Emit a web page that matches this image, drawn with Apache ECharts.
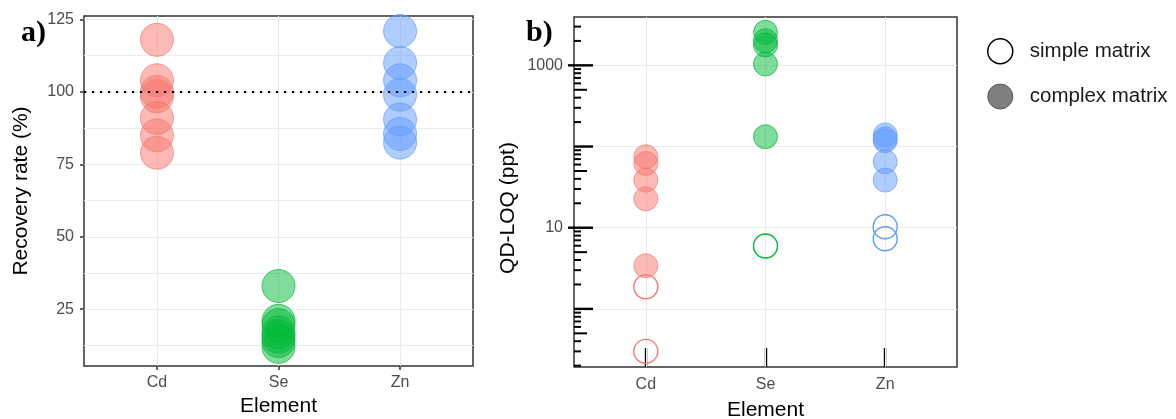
<!DOCTYPE html>
<html>
<head>
<meta charset="utf-8">
<script src="https://cdn.jsdelivr.net/npm/echarts@6/dist/echarts.min.js"></script>
<style>
html, body { margin: 0; padding: 0; background: #fff; }
#main { width: 1176px; height: 419px; }
</style>
</head>
<body>
<div id="main"></div>
<script>
var elements = ['Cd', 'Se', 'Zn'];

// a) recovery rate (%), all complex matrix
var recoveryCd = [118, 104, 100, 98.5, 91, 85, 79];
var recoverySe = [33, 21, 19.5, 17, 15.5, 14, 12];
var recoveryZn = [121, 110, 104, 99, 90.5, 85.5, 82.5];

// b) QD-LOQ (ppt)
var loqComplexCd = [75, 62, 38.6, 22.7, 3.4];
var loqComplexSe = [2550, 2010, 1780, 1040, 132];
var loqComplexZn = [139, 125, 118, 65, 38.6];
var loqSimpleCd = [1.87, 0.30];
var loqSimpleSe = [5.96];
var loqSimpleZn = [10.3, 7.3];

// ticks
var recoveryTicks = [25, 50, 75, 100, 125];
var recoveryMinor = [12.5, 37.5, 62.5, 87.5, 112.5];
var recoveryTarget = 100;
var loqLabels = [10, 1000];
var loqDecades = [1, 10, 100, 1000];
var loqFives = [0.5, 5, 50, 500];
var loqMinor = [0.2, 0.3, 0.4, 0.6, 0.7, 0.8, 0.9,
                2, 3, 4, 6, 7, 8, 9,
                20, 30, 40, 60, 70, 80, 90,
                200, 300, 400, 600, 700, 800, 900,
                2000, 3000];

var fillColors = ['rgba(248,118,109,0.5)', 'rgba(0,186,56,0.5)', 'rgba(97,156,255,0.5)'];
var lineColors = ['rgba(248,118,109,0.7)', 'rgba(0,186,56,0.7)', 'rgba(97,156,255,0.7)'];
var solidColors = ['#F8766D', '#00BA38', '#619CFF'];

var X_MIN = 0.4, X_MAX = 3.6;
var catPos = elements.map(function (e, i) { return i + 1; });
var FONT = '"Liberation Sans", Arial, sans-serif';
var GRID_LINE = { color: '#ebebeb', width: 1, type: 'solid' };

function pts(values, i) {
    return values.map(function (v) { return [i + 1, v]; });
}

function filledSeries(values, i, grid, size) {
    return {
        type: 'scatter', name: 'complex matrix',
        xAxisIndex: grid, yAxisIndex: grid,
        data: pts(values, i), symbol: 'circle', symbolSize: size, z: 3,
        itemStyle: { color: fillColors[i], borderColor: lineColors[i], borderWidth: 1, opacity: 1 },
        emphasis: { disabled: true }
    };
}

function openSeries(values, i) {
    return {
        type: 'scatter', name: 'simple matrix',
        xAxisIndex: 1, yAxisIndex: 1,
        data: pts(values, i), symbol: 'circle', symbolSize: 24, z: 3,
        itemStyle: { color: 'rgba(255,255,255,0)', borderColor: solidColors[i], borderWidth: 1.4, opacity: 1 },
        emphasis: { disabled: true }
    };
}

function gridLines(hValues) {
    return {
        silent: true, symbol: 'none', z: 1, animation: false,
        label: { show: false }, lineStyle: GRID_LINE, emphasis: { disabled: true },
        data: hValues.map(function (v) { return { yAxis: v }; })
            .concat(catPos.map(function (x) { return { xAxis: x }; }))
    };
}

// log ticks on the left side of panel b
function logTickSeries(values, inLen, width) {
    return {
        type: 'custom', xAxisIndex: 1, yAxisIndex: 1, silent: true, z: 6, clip: false,
        data: values.map(function (v) { return [X_MIN, v]; }),
        renderItem: function (params, api) {
            var v = api.value(1);
            var p = api.coord([api.value(0), v]);
            var out = loqLabels.some(function (l) { return Math.abs(v - l) < 1e-9; }) ? 6 : 0;
            return {
                type: 'line',
                shape: { x1: p[0] - out, y1: p[1], x2: p[0] + inLen, y2: p[1] },
                style: { stroke: '#000', lineWidth: width }
            };
        }
    };
}

function xAxisCfg(grid, tickLen, inside, tickWidth, labelMargin, nameGap) {
    return {
        type: 'value', gridIndex: grid, min: X_MIN, max: X_MAX,
        axisLine: { show: false }, splitLine: { show: false },
        axisTick: { show: true, customValues: catPos, inside: inside, length: tickLen,
                    lineStyle: { color: inside ? '#000' : '#333', width: tickWidth } },
        axisLabel: { customValues: catPos, color: '#4d4d4d', fontSize: 16, margin: labelMargin,
                     fontFamily: FONT,
                     formatter: function (v) { return elements[Math.round(v) - 1] || ''; } },
        name: 'Element', nameLocation: 'middle', nameGap: nameGap,
        nameTextStyle: { color: '#000', fontSize: 21, fontFamily: FONT }
    };
}

var recoveryData = [recoveryCd, recoverySe, recoveryZn];
var loqComplex = [loqComplexCd, loqComplexSe, loqComplexZn];
var loqSimple = [loqSimpleCd, loqSimpleSe, loqSimpleZn];

var series = [];
recoveryData.forEach(function (vals, i) { series.push(filledSeries(vals, i, 0, 33)); });
series[0].markLine = gridLines(recoveryTicks.concat(recoveryMinor));
series[2].markLine = {
    silent: true, symbol: 'none', z: 6, animation: false, label: { show: false },
    emphasis: { disabled: true },
    lineStyle: { color: '#000', width: 2.2, type: [2.2, 5.8] },
    data: [{ yAxis: recoveryTarget }]
};
loqComplex.forEach(function (vals, i) { series.push(filledSeries(vals, i, 1, 24)); });
loqSimple.forEach(function (vals, i) { series.push(openSeries(vals, i)); });
series[3].markLine = gridLines(loqDecades);
series.push(logTickSeries(loqDecades, 19, 2.4));
series.push(logTickSeries(loqFives, 13, 2));
series.push(logTickSeries(loqMinor, 7, 2));

var option = {
    animation: false,
    textStyle: { fontFamily: FONT },
    grid: [
        { left: 84, top: 16, width: 389, height: 350, show: true, outerBoundsMode: 'none', containLabel: false,
          borderColor: '#333', borderWidth: 1.5, backgroundColor: 'transparent' },
        { left: 574, top: 17, width: 383, height: 350, show: true, outerBoundsMode: 'none', containLabel: false,
          borderColor: '#333', borderWidth: 1.5, backgroundColor: 'transparent' }
    ],
    xAxis: [
        xAxisCfg(0, 4, false, 1.5, 9, 30),
        xAxisCfg(1, 19, true, 2.4, 10, 33)
    ],
    yAxis: [
        { type: 'value', gridIndex: 0, min: 5.4, max: 126.2,
          axisLine: { show: false }, splitLine: { show: false },
          axisTick: { show: true, customValues: recoveryTicks, length: 4, lineStyle: { color: '#333', width: 1.5 } },
          axisLabel: { customValues: recoveryTicks, color: '#4d4d4d', fontSize: 16, margin: 10, fontFamily: FONT },
          name: 'Recovery rate (%)', nameLocation: 'middle', nameGap: 52,
          nameTextStyle: { color: '#000', fontSize: 21, fontFamily: FONT } },
        { type: 'log', logBase: 10, gridIndex: 1, min: 0.1925, max: 3940,
          axisLine: { show: false }, splitLine: { show: false }, axisTick: { show: false },
          axisLabel: { color: '#4d4d4d', fontSize: 16, margin: 11, fontFamily: FONT,
                       formatter: function (v) {
                           var hit = loqLabels.filter(function (l) { return Math.abs(v - l) / l < 1e-6; });
                           return hit.length ? String(hit[0]) : '';
                       } } }
    ],
    legend: {
        orient: 'vertical', left: 982, top: 33, itemWidth: 25, itemHeight: 25, itemGap: 19,
        selectedMode: false,
        textStyle: { fontSize: 20.5, color: '#1a1a1a', fontFamily: FONT, padding: [0, 0, 0, 12] },
        data: [
            { name: 'simple matrix', icon: 'circle',
              itemStyle: { color: '#ffffff', borderColor: '#000', borderWidth: 1.5 } },
            { name: 'complex matrix', icon: 'circle',
              itemStyle: { color: '#7f7f7f', borderColor: '#555', borderWidth: 1 } }
        ]
    },
    graphic: [
        { type: 'text', left: 21, top: 18,
          style: { text: 'a)', font: 'bold 30px "Liberation Serif", serif', fill: '#000' } },
        { type: 'text', left: 526, top: 18,
          style: { text: 'b)', font: 'bold 30px "Liberation Serif", serif', fill: '#000' } },
        { type: 'text', x: 508, y: 208, rotation: Math.PI / 2,
          style: { text: 'QD-LOQ (ppt)', font: '21px ' + FONT, fill: '#000',
                   align: 'center', verticalAlign: 'middle' } }
    ],
    series: series
};

var chart = echarts.init(document.getElementById('main'), null, { renderer: 'canvas' });
chart.setOption(option);
</script>
</body>
</html>
